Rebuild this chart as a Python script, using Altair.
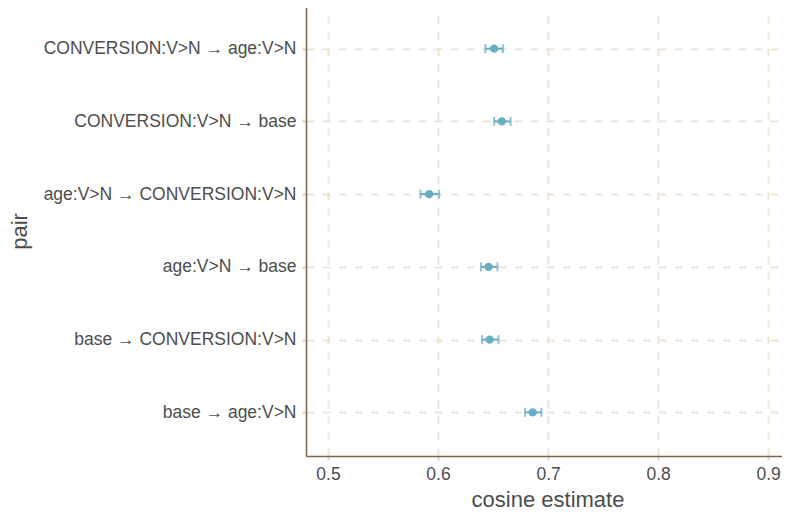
import altair as alt
import pandas as pd

pairs = [
    "CONVERSION:V>N → age:V>N",
    "CONVERSION:V>N → base",
    "age:V>N → CONVERSION:V>N",
    "age:V>N → base",
    "base → CONVERSION:V>N",
    "base → age:V>N",
]
estimate = [0.651, 0.658, 0.592, 0.646, 0.647, 0.686]
lower = [0.643, 0.651, 0.584, 0.639, 0.640, 0.679]
upper = [0.659, 0.666, 0.601, 0.654, 0.655, 0.694]

df = pd.DataFrame({"pair": pairs, "estimate": estimate, "lower": lower, "upper": upper})

GRID = "#ede3d7"
TICK = "#e0d2c2"
AXIS = "#7d6449"
PT = "#67adc4"
TXT = "#4d4d4d"
FONT = "Liberation Sans"

x_scale = alt.Scale(domain=[0.48, 0.919], nice=False, zero=False)
y_scale = alt.Scale(type="point", padding=0.6, domain=pairs)

common = dict(
    grid=True, gridColor=GRID, gridDash=[8, 8], gridWidth=2,
    domainColor=AXIS, domainWidth=1.5, tickColor=TICK, tickSize=4, tickWidth=2,
    labelFont=FONT, labelFontSize=17.5, labelColor=TXT,
    titleFont=FONT, titleFontSize=22, titleColor=TXT, titleFontWeight="normal",
    labelLimit=400,
)
x_axis = alt.Axis(
    title="cosine estimate", values=[0.5, 0.6, 0.7, 0.8, 0.9], format=".1f",
    labelPadding=5, titlePadding=7, **common,
)
y_axis = alt.Axis(title="pair", labelPadding=6, titleX=-275, titleY=226, **common)

base = alt.Chart(df)
Y = alt.Y("pair:N", scale=y_scale, sort=pairs)
grid_layer = base.mark_point(opacity=0).encode(
    x=alt.X("estimate:Q", scale=x_scale, axis=x_axis),
    y=alt.Y("pair:N", scale=y_scale, axis=y_axis, sort=pairs),
)
rule = base.mark_rule(color=PT, strokeWidth=2).encode(
    x=alt.X("lower:Q", scale=x_scale), x2="upper:Q", y=Y,
)
cap_lo = base.mark_tick(color=PT, orient="vertical", size=9, thickness=2).encode(
    x=alt.X("lower:Q", scale=x_scale), y=Y,
)
cap_hi = base.mark_tick(color=PT, orient="vertical", size=9, thickness=2).encode(
    x=alt.X("upper:Q", scale=x_scale), y=Y,
)
pts = base.mark_circle(color=PT, size=70, opacity=1).encode(
    x=alt.X("estimate:Q", scale=x_scale), y=Y,
)

chart = alt.layer(grid_layer, rule, cap_lo, cap_hi, pts).properties(
    width=483, height=451,
    autosize=alt.AutoSizeParams(type="none"),
    padding={"left": 298, "top": -3, "right": -7, "bottom": 57},
).configure_view(stroke=None).configure(background="white")

chart.save("out.html", embed_options={"renderer": "svg", "actions": False})
